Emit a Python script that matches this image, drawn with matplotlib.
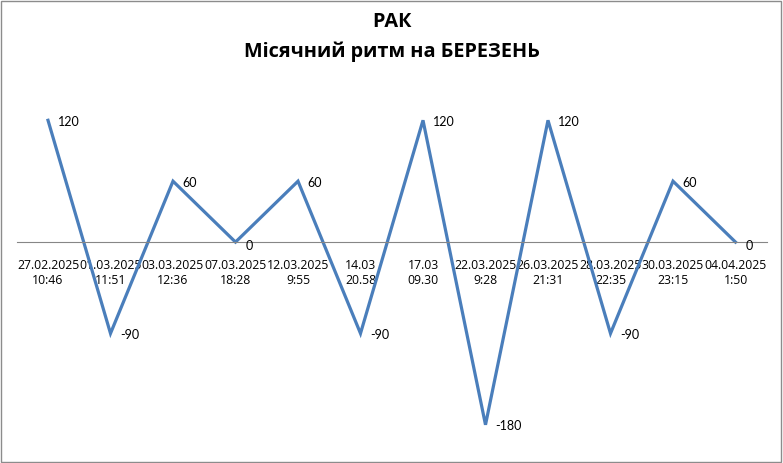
import matplotlib
matplotlib.use('Agg')
import matplotlib.pyplot as plt
from matplotlib.patches import Rectangle

dates = ['27.02.2025\n10:46', '01.03.2025\n11:51', '03.03.2025\n12:36', '07.03.2025\n18:28',
         '12.03.2025\n9:55', '14.03\n20.58', '17.03\n09.30', '22.03.2025\n9:28',
         '26.03.2025\n21:31', '28.03.2025\n22:35', '30.03.2025\n23:15', '04.04.2025\n1:50']
values = [120, -90, 60, 0, 60, -90, 120, -180, 120, -90, 60, 0]

plt.rcParams['font.family'] = ['Open Sans', 'DejaVu Sans']
narrow = ['Lato', 'DejaVu Sans']

fig = plt.figure(figsize=(7.83, 4.63), dpi=100)
ax = fig.add_axes([16.75 / 783, 23 / 463, 750 / 783, 340 / 463])

x = list(range(len(values)))
ax.plot(x, values, color='#4a7ebb', lw=2.3, solid_joinstyle='miter')
for xi, v in zip(x, values):
    ax.annotate(str(v), (xi, v), xytext=(7, -1 if v else -3), textcoords='offset points',
                ha='left', va='center', fontsize=9, family=narrow)

ax.set_xlim(-0.5, len(values) - 0.5)
ax.set_ylim(-195, 140)
ax.set_yticks([])
ax.tick_params(axis='x', length=0, pad=12, labelsize=8.8)
ax.set_xticks(x)
ax.set_xticklabels(dates, linespacing=1.65, family=narrow, fontsize=8.8)
for s in ['top', 'right', 'left']:
    ax.spines[s].set_visible(False)
ax.spines['bottom'].set_position(('data', 0))
ax.spines['bottom'].set_color('#868686')
ax.spines['bottom'].set_linewidth(0.8)

fig.text(0.5, 1 - 22 / 463, 'РАК', ha='center', va='center', fontsize=14.3, fontweight='bold')
fig.text(0.5, 1 - 52 / 463, 'Місячний ритм на БЕРЕЗЕНЬ', ha='center', va='center',
         fontsize=14.3, fontweight='bold')

fig.patches.append(Rectangle((0.001, 0.002), 0.997, 0.996, transform=fig.transFigure,
                             fill=False, edgecolor='#8c8c8c', lw=1))

fig.savefig('out.png', dpi=100)
